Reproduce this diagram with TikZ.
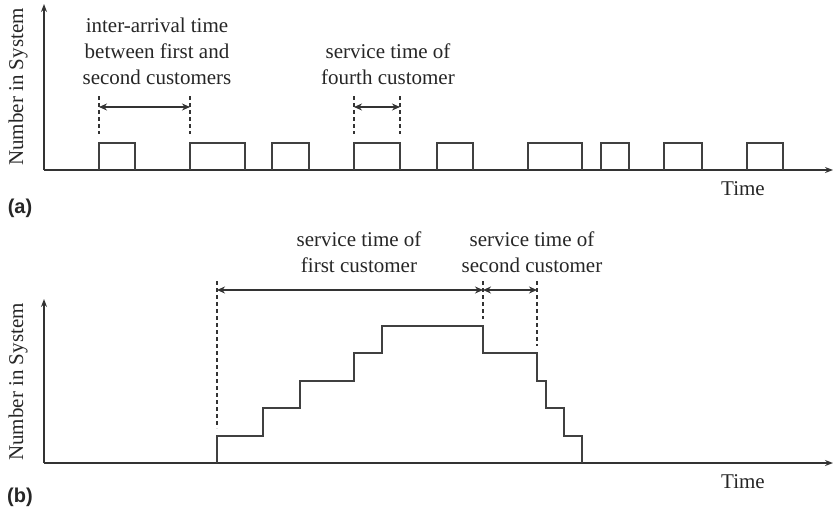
\documentclass[tikz,border=0pt]{standalone}
\usepackage{fontspec}
\setmainfont{Liberation Serif}
\newfontfamily\panelfont{Liberation Sans}
\usetikzlibrary{arrows.meta}

\begin{document}
\begin{tikzpicture}[x=1pt,y=-1pt,
  axisline/.style={line width=1.4pt, draw=black!80, -{Stealth[length=8pt,width=6pt]}},
  trace/.style={line width=1.4pt, draw=black!75, line join=miter},
  guide/.style={line width=1.2pt, draw=black!80, dash pattern=on 4pt off 3pt},
  spanarrow/.style={line width=1.3pt, draw=black!80,
    {Stealth[length=8pt,width=7pt]}-{Stealth[length=8pt,width=7pt]}},
  lbl/.style={font=\fontsize{21}{26}\selectfont, align=center, text=black!85, inner sep=0pt},
  axlbl/.style={font=\fontsize{21}{26}\selectfont, text=black!85, inner sep=0pt},
  panel/.style={font=\panelfont\bfseries\fontsize{20}{24}\selectfont, text=black!85, inner sep=0pt}]
\useasboundingbox (0,0) rectangle (834,512);

% ---------------- panel (a): single server, no queue ----------------
\coordinate (oa) at (44,170);
\coordinate (ya) at (44,4);
\coordinate (xa) at (833,170);
\draw[axisline] (oa) -- (ya);
\draw[axisline] (oa) -- (xa);

% customer service intervals
\foreach \s/\e in {99/135, 190/245, 272/309, 354/400, 437/473,
                   528/582, 601/629, 664/702, 747/783}
  \draw[trace] (\s,170) |- (\e,143) -- (\e,170);

% interval markers
\coordinate (g1t) at (99,96);   \coordinate (g1b) at (99,134);
\coordinate (g2t) at (190,96);  \coordinate (g2b) at (190,134);
\coordinate (g3t) at (354,96);  \coordinate (g3b) at (354,134);
\coordinate (g4t) at (400,96);  \coordinate (g4b) at (400,134);
\draw[guide] (g1t) -- (g1b);
\draw[guide] (g2t) -- (g2b);
\draw[guide] (g3t) -- (g3b);
\draw[guide] (g4t) -- (g4b);
\coordinate (a1) at (99,107);  \coordinate (a2) at (190,107);
\coordinate (a3) at (354,107); \coordinate (a4) at (400,107);
\draw[spanarrow] (a1) -- (a2);
\draw[spanarrow] (a3) -- (a4);

\node[lbl] (interarrival) at (157,51) {inter-arrival time\\between first and\\second customers};
\node[lbl] (fourth) at (388,64) {service time of\\fourth customer};
\node[axlbl, rotate=90] (nsa) at (18,87) {Number in System};
\node[axlbl] (timea) at (743,189) {Time};
\node[panel] (pa) at (20,208) {(a)};

% ---------------- panel (b): customers queue up ----------------
\coordinate (ob) at (44,463);
\coordinate (yb) at (44,299);
\coordinate (xb) at (833,463);
\draw[axisline] (ob) -- (yb);
\draw[axisline] (ob) -- (xb);

\draw[trace] (217,463) -- (217,436) -- (263,436) -- (263,408) -- (300,408)
  -- (300,381) -- (354,381) -- (354,353) -- (382,353) -- (382,326)
  -- (483,326) -- (483,353) -- (537,353) -- (537,381) -- (546,381)
  -- (546,408) -- (564,408) -- (564,436) -- (582,436) -- (582,463);

\coordinate (h1t) at (217,281); \coordinate (h1b) at (217,428);
\coordinate (h2t) at (483,281); \coordinate (h2b) at (483,319);
\coordinate (h3t) at (537,281); \coordinate (h3b) at (537,346);
\draw[guide] (h1t) -- (h1b);
\draw[guide] (h2t) -- (h2b);
\draw[guide] (h3t) -- (h3b);
\coordinate (b1) at (217,290); \coordinate (b2) at (483,290); \coordinate (b3) at (537,290);
\draw[spanarrow] (b1) -- (b2);
\draw[spanarrow] (b2) -- (b3);

\node[lbl] (firstsvc) at (359,252) {service time of\\first customer};
\node[lbl] (secondsvc) at (532,252) {service time of\\second customer};
\node[axlbl, rotate=90] (nsb) at (18,382) {Number in System};
\node[axlbl] (timeb) at (743,482) {Time};
\node[panel] (pb) at (20,497) {(b)};
\end{tikzpicture}
\end{document}
